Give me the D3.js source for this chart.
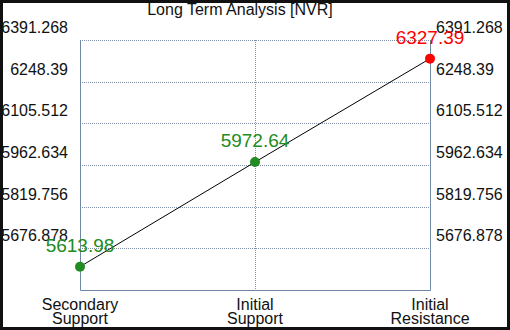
<!DOCTYPE html>
<html>
<head>
<meta charset="utf-8">
<script src="https://cdn.jsdelivr.net/npm/d3@7"></script>
<style>
  body { margin: 0; background: #fff; }
  svg { display: block; }
</style>
</head>
<body>
<svg id="chart" width="510" height="330"></svg>
<script>
const categories = [["Secondary", "Support"], ["Initial", "Support"], ["Initial", "Resistance"]];
const values = [5613.98, 5972.64, 6327.39];
const pointColors = ["#228b22", "#228b22", "#ff0000"];
const tickValues = [5534, 5676.878, 5819.756, 5962.634, 6105.512, 6248.39, 6391.268];
const tickLabels = ["", "5676.878", "5819.756", "5962.634", "6105.512", "6248.39", "6391.268"];

const width = 510;
const height = 330;
const margin = { top: 40, right: 80, bottom: 40, left: 80 };
const font = "Liberation Sans, Arial, sans-serif";

const svg = d3.select("#chart");

svg.append("rect").attr("width", width).attr("height", height).attr("fill", "#111");
svg.append("rect").attr("x", 3).attr("y", 3).attr("width", width - 6).attr("height", height - 6).attr("fill", "#fff");

const x = d3.scalePoint()
  .domain(d3.range(categories.length))
  .range([margin.left, width - margin.right]);

const y = d3.scaleLinear()
  .domain([tickValues[0], tickValues[tickValues.length - 1]])
  .range([height - margin.bottom, margin.top]);

// horizontal grid
svg.append("g")
  .selectAll("line")
  .data(tickValues.slice(1))
  .join("line")
  .attr("x1", margin.left)
  .attr("x2", width - margin.right)
  .attr("y1", d => Math.round(y(d)) + 0.5)
  .attr("y2", d => Math.round(y(d)) + 0.5)
  .attr("stroke", "#8090a8")
  .attr("stroke-dasharray", "1,1");

// vertical grid (middle)
svg.append("line")
  .attr("x1", Math.round(x(1)) + 0.5)
  .attr("x2", Math.round(x(1)) + 0.5)
  .attr("y1", margin.top)
  .attr("y2", height - margin.bottom)
  .attr("stroke", "#8090a8")
  .attr("stroke-dasharray", "1,1");

// frame: left, right, bottom solid
svg.append("path")
  .attr("d", `M${margin.left + 0.5},${margin.top}V${height - margin.bottom + 0.5}H${width - margin.right + 0.5}V${margin.top}`)
  .attr("stroke", "#7088a8")
  .attr("fill", "none");

// y axis labels left and right
const labelData = tickValues.map((v, i) => ({ v, label: tickLabels[i] })).filter(d => d.label);

svg.append("g")
  .selectAll("text")
  .data(labelData)
  .join("text")
  .attr("x", 68)
  .attr("y", d => y(d.v) - 7)
  .attr("text-anchor", "end")
  .attr("font-family", font)
  .attr("font-size", 16)
  .attr("fill", "#111")
  .text(d => d.label);

svg.append("g")
  .selectAll("text")
  .data(labelData)
  .join("text")
  .attr("x", 436)
  .attr("y", d => y(d.v) - 7)
  .attr("text-anchor", "start")
  .attr("font-family", font)
  .attr("font-size", 16)
  .attr("fill", "#111")
  .text(d => d.label);

// category labels
svg.append("g")
  .selectAll("text")
  .data(categories)
  .join("text")
  .attr("x", (d, i) => x(i))
  .attr("y", 310)
  .attr("text-anchor", "middle")
  .attr("font-family", font)
  .attr("font-size", 16)
  .attr("fill", "#111")
  .selectAll("tspan")
  .data(d => d)
  .join("tspan")
  .attr("x", function () { return d3.select(this.parentNode).attr("x"); })
  .attr("dy", (d, i) => i === 0 ? 0 : 14)
  .text(d => d);

// title
svg.append("text")
  .attr("x", 240)
  .attr("y", 15)
  .attr("text-anchor", "middle")
  .attr("font-family", font)
  .attr("font-size", 16)
  .attr("fill", "#111")
  .text("Long Term Analysis [NVR]");

// line
const line = d3.line()
  .x((d, i) => x(i))
  .y(d => y(d));

svg.append("path")
  .datum(values)
  .attr("d", line)
  .attr("fill", "none")
  .attr("stroke", "#000")
  .attr("stroke-width", 1);

// points
svg.append("g")
  .selectAll("circle")
  .data(values)
  .join("circle")
  .attr("cx", (d, i) => x(i))
  .attr("cy", d => y(d))
  .attr("r", 5)
  .attr("fill", (d, i) => pointColors[i]);

// value labels
svg.append("g")
  .selectAll("text")
  .data(values)
  .join("text")
  .attr("x", (d, i) => x(i))
  .attr("y", d => y(d) - 15)
  .attr("text-anchor", "middle")
  .attr("font-family", font)
  .attr("font-size", 19)
  .attr("fill", (d, i) => pointColors[i])
  .text(d => d.toFixed(2));
</script>
</body>
</html>
